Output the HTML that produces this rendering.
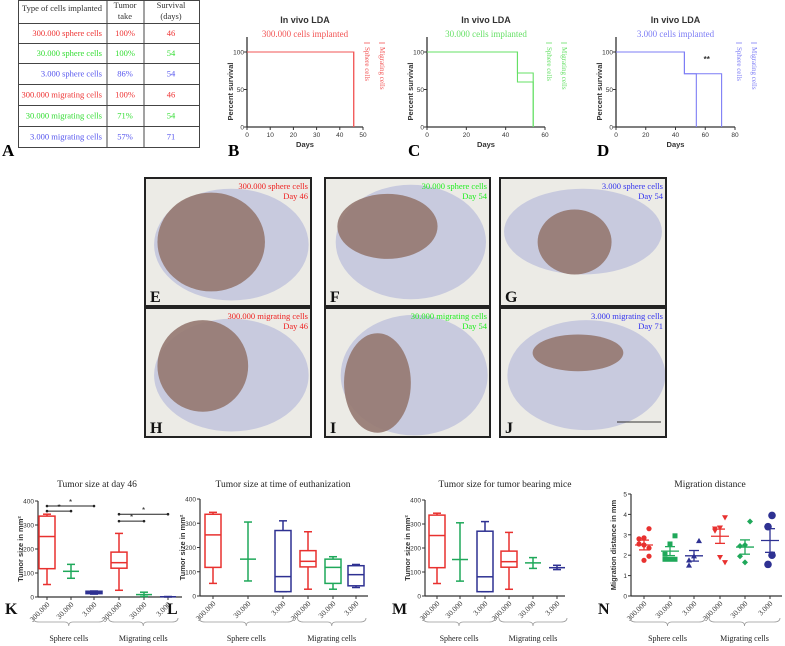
<!DOCTYPE html>
<html><head><meta charset="utf-8"><style>
body{margin:0;background:#fff;}
svg{display:block;}
.sf{font-family:"Liberation Serif",serif;}
.ss{font-family:"Liberation Sans",sans-serif;}
</style></head><body>
<svg id="fig" width="785" height="646" viewBox="0 0 785 646" xmlns="http://www.w3.org/2000/svg">
<g id="table" class="sf" font-size="8.5">
  <rect x="18.5" y="0.5" width="181" height="147" fill="#fff" stroke="#444" stroke-width="1"/>
  <line x1="107" y1="0" x2="107" y2="147" stroke="#444"/>
  <line x1="144" y1="0" x2="144" y2="147" stroke="#444"/>
  <text x="62" y="11" text-anchor="middle" fill="#333">Type of cells implanted</text>
  <text x="125" y="8" text-anchor="middle" fill="#333">Tumor</text>
  <text x="125" y="19" text-anchor="middle" fill="#333">take</text>
  <text x="171" y="8" text-anchor="middle" fill="#333">Survival</text>
  <text x="171" y="19" text-anchor="middle" fill="#333">(days)</text>
</g>
<text x="2" y="156" class="sf" font-size="17" font-weight="bold">A</text>
<g id="surv"></g>
<g id="brains"></g>
<g id="boxes"></g>
</svg>
<script>
const NS="http://www.w3.org/2000/svg";
function mk(p,tag,attrs,txt){const e=document.createElementNS(NS,tag);for(const k in attrs)e.setAttribute(k,attrs[k]);if(txt!==undefined)e.textContent=txt;p.appendChild(e);return e;}
const RED="#e8312f",GRN="#1fa85a",BLU="#2e3192";
const LRED="#f25555",LGRN="#66e066",LBLU="#7d7df5";

// ---------- Table ----------
const tableRows=["300.000 sphere cells","30.000 sphere cells","3.000 sphere cells","300.000 migrating cells","30.000 migrating cells","3.000 migrating cells"];
const tableTake=["100%","100%","86%","100%","71%","57%"];
const tableSurv=["46","54","54","46","54","71"];
const tableCol=["#ee3333","#33dd33","#5555ee","#ee3333","#33dd33","#5555ee"];
(function(){
 const t=document.getElementById('table');
 const ys=[23,43,63,84,105,126,147];
 for(let i=0;i<6;i++){
  const l=mk(t,'line',{x1:18,x2:199,y1:ys[i]+0.5,y2:ys[i]+0.5,stroke:'#444'});
  
  
  const cy=(ys[i]+ys[i+1])/2+3;
  const a=mk(t,'text',{x:102,y:cy,'text-anchor':'end',fill:tableCol[i]},tableRows[i]);
  
  
  const b=mk(t,'text',{x:125,y:cy,'text-anchor':'middle',fill:tableCol[i]},tableTake[i]);
  
  
  const c=mk(t,'text',{x:171,y:cy,'text-anchor':'middle',fill:tableCol[i]},tableSurv[i]);
  
  
 }
})();

// ---------- Survival charts ----------
const survLabels=["B","C","D"];
const survSub=["300.000 cells implanted","30.000 cells implanted","3.000 cells implanted"];
const survXmax=[50,60,80];
const survXticks=[[0,10,20,30,40,50],[0,20,40,60],[0,20,40,60,80]];
const survSphereT=[[0,46,46],[0,46,46,54,54],[0,46,46,54,54]];
const survSphereS=[[100,100,0],[100,100,60,60,0],[100,100,71,71,0]];
const survMigT=[[0,46,46],[0,46,46,54,54],[0,46,46,71,71]];
const survMigS=[[100,100,0],[100,100,72,72,0],[100,100,71,71,0]];
const survColor=[LRED,LGRN,LBLU];
const survX0=[247,427,616],survX1=[363,545,735];
(function(){
 const g=document.getElementById('surv');
 for(let k=0;k<3;k++){
  const x0=survX0[k],x1=survX1[k],yT=52,yB=127;
  const sx=v=>x0+(x1-x0)*v/survXmax[k];
  const sy=v=>yB-(yB-yT)*v/100;
  const cg=mk(g,'g',{});
  
  
  const cx=(x0+x1)/2;
  const t=mk(cg,'text',{x:cx,y:23,'text-anchor':'middle','font-size':'9','font-weight':'bold',fill:'#333',class:'ss'},'In vivo LDA');
  
  
  const st=mk(cg,'text',{x:cx,y:37,'text-anchor':'middle','font-size':'9',fill:survColor[k],class:'sf'},survSub[k]);
  
  
  mk(cg,'line',{x1:x0,y1:37,x2:x0,y2:yB+0.5,stroke:'#333','stroke-width':1.3});
  mk(cg,'line',{x1:x0,y1:yB,x2:x1,y2:yB,stroke:'#333','stroke-width':1.3});
  [0,50,100].forEach(v=>{mk(cg,'line',{x1:x0-3,x2:x0,y1:sy(v),y2:sy(v),stroke:'#333'});
   const tl=mk(cg,'text',{x:x0-3,y:sy(v)+2.5,'text-anchor':'end','font-size':'6.5',fill:'#333',class:'ss'},String(v));
   
   });
  survXticks[k].forEach(v=>{mk(cg,'line',{x1:sx(v),x2:sx(v),y1:yB,y2:yB+3,stroke:'#333'});
   const tl=mk(cg,'text',{x:sx(v),y:yB+10,'text-anchor':'middle','font-size':'6.5',fill:'#333',class:'ss'},String(v));
   
   });
  const xl=mk(cg,'text',{x:cx,y:yB+20,'text-anchor':'middle','font-size':'7.5','font-weight':'bold',fill:'#333',class:'ss'},'Days');
  
  
  const yl=mk(cg,'text',{transform:`translate(${x0-14},${(yT+yB)/2+2}) rotate(-90)`,'text-anchor':'middle','font-size':'7.5','font-weight':'bold',fill:'#333',class:'ss'},'Percent survival');
  
  
  [[survSphereT[k],survSphereS[k]],[survMigT[k],survMigS[k]]].forEach((s,j)=>{
   const d=s[0].map((t,i)=>(i?'L':'M')+sx(t)+','+sy(s[1][i])).join('');
   const p=mk(cg,'path',{d:d,fill:'none',stroke:survColor[k],'stroke-width':1.1});
   
   
  });
  ['Sphere cells','Migrating cells'].forEach((n,j)=>{
   const lx=x1+4+j*15;
   mk(cg,'line',{x1:lx-3,x2:lx+3,y1:43,y2:43,stroke:survColor[k],'stroke-width':0.8});
   const lt=mk(cg,'text',{transform:`translate(${lx-2},47) rotate(90)`,'font-size':'7',fill:survColor[k],class:'sf'},n);
   
   
  });
  if(k===2){const s=mk(cg,'text',{x:sx(61),y:62,'text-anchor':'middle','font-size':'8','font-weight':'bold',fill:'#333',class:'ss'},'**');
   
   }
  const pl=mk(cg,'text',{x:x0-19,y:156,'font-size':'17','font-weight':'bold',class:'sf'},survLabels[k]);
  
  
 }
})();

// ---------- Brain section panels ----------
const brainLabels=["E","F","G","H","I","J"];
const brainTxt1=["300.000 sphere cells","30.000 sphere cells","3.000 sphere cells","300.000 migrating cells","30.000 migrating cells","3.000 migrating cells"];
const brainTxt2=["Day 46","Day 54","Day 54","Day 46","Day 54","Day 71"];
const brainCol=["#ee2222","#22ee22","#3333ee","#ee2222","#22ee22","#3333ee"];
(function(){
 const g=document.getElementById('brains');
 const px=[144,324,499],py=[177,307],w=[168,167,168],h=[130,131];
 const tum=[[0.4,0.5,0.32,0.38],[0.38,0.38,0.3,0.25],[0.45,0.5,0.22,0.25],[0.35,0.45,0.27,0.35],[0.32,0.58,0.2,0.38],[0.47,0.35,0.27,0.14]];
 const br=[[0.52,0.52,0.46,0.43],[0.52,0.5,0.45,0.44],[0.5,0.42,0.47,0.33],[0.52,0.52,0.46,0.43],[0.54,0.52,0.44,0.46],[0.52,0.52,0.47,0.42]];
 for(let i=0;i<6;i++){
  const c=i%3,r=Math.floor(i/3);
  const x=px[c],y=py[r],W=w[c],H=h[r];
  const pg=mk(g,'g',{});
  
  
  mk(pg,'rect',{x:x,y:y,width:W,height:H,fill:'#ecebe6'});
  const b=br[i];
  mk(pg,'ellipse',{cx:x+W*b[0],cy:y+H*b[1],rx:W*b[2],ry:H*b[3],fill:'#c8cade'});
  const t=tum[i];
  mk(pg,'ellipse',{cx:x+W*t[0],cy:y+H*t[1],rx:W*t[2],ry:H*t[3],fill:'#957870',opacity:0.9});
  mk(pg,'rect',{x:x+1,y:y+1,width:W-2,height:H-2,fill:'none',stroke:'#222','stroke-width':2});
  const a=mk(pg,'text',{x:x+W-4,y:y+12,'text-anchor':'end','font-size':'8.5',fill:brainCol[i],class:'sf'},brainTxt1[i]);
  
  
  const d=mk(pg,'text',{x:x+W-4,y:y+22,'text-anchor':'end','font-size':'8.5',fill:brainCol[i],class:'sf'},brainTxt2[i]);
  
  
  const l=mk(pg,'text',{x:x+6,y:y+H-5,'font-size':'16','font-weight':'bold',fill:'#111',class:'sf'},brainLabels[i]);
  
  
  if(i===5){mk(pg,'line',{x1:x+W-50,x2:x+W-6,y1:y+H-16,y2:y+H-16,stroke:'#333','stroke-width':1});}
 }
})();

// ---------- Box plots K, L, M ----------
const catLabels=["300.000","30.000","3.000","300.000","30.000","3.000"];
const catColors=[RED,GRN,BLU,RED,GRN,BLU];
const kMin=[52,78,12,28,2,0];
const kQ1=[118,107,14,120,10,1];
const kMed=[252,107,18,143,10,1];
const kQ3=[337,107,24,187,10,1];
const kMax=[345,136,25,265,20,2];
const lMin=[52,62,18,28,28,35];
const lQ1=[118,152,18,120,52,42];
const lMed=[252,152,80,143,118,88];
const lQ3=[337,152,270,187,152,125];
const lMax=[345,305,310,265,162,130];
const mMin=[52,62,18,28,115,110];
const mQ1=[118,152,18,120,138,118];
const mMed=[252,152,80,143,138,118];
const mQ3=[337,152,270,187,138,118];
const mMax=[345,305,310,265,160,128];
const yTicks400=[0,100,200,300,400];
// N scatter
const nS0=[3.3,2.85,2.8,2.55,2.5,2.35,1.95,1.75];
const nS1=[2.95,2.55,2.05,1.8,1.8,1.8];
const nS2=[2.7,1.95,1.75,1.5];
const nM0=[3.85,3.35,3.3,3.2,1.9,1.65];
const nM1=[3.65,2.5,2.45,1.95,1.65];
const nM2=[3.95,3.4,2.0,1.55];
const nMean=[2.5,2.2,1.97,2.93,2.4,2.72];
const nSem=[0.24,0.22,0.26,0.35,0.35,0.58];
const yTicks5=[0,1,2,3,4,5];

function chartFrame(g,ax,axEnd,yT,yB,ymax,ticks,cats,title,titleX,ylab,label){
 const sy=v=>yB-(yB-yT)*v/ymax;
 const tt=mk(g,'text',{x:titleX,y:487,'text-anchor':'middle','font-size':'9.5',fill:'#222',class:'sf'},title);
 
 
 mk(g,'line',{x1:ax,x2:ax,y1:sy(ymax),y2:yB+0.5,stroke:'#333','stroke-width':1.2});
 mk(g,'line',{x1:ax,x2:axEnd,y1:yB,y2:yB,stroke:'#333','stroke-width':1.2});
 ticks.forEach(v=>{mk(g,'line',{x1:ax-3,x2:ax,y1:sy(v),y2:sy(v),stroke:'#333'});
  const t=mk(g,'text',{x:ax-4,y:sy(v)+2.5,'text-anchor':'end','font-size':'6.5',fill:'#333',class:'ss'},String(v));
  
  });
 const yl=mk(g,'text',{transform:`translate(${ax-15},${(yT+yB)/2}) rotate(-90)`,'text-anchor':'middle','font-size':'7.5','font-weight':'bold',fill:'#333',class:'ss'},ylab);
 
 
 cats.forEach((cx,i)=>{
  mk(g,'line',{x1:cx,x2:cx,y1:yB,y2:yB+3,stroke:'#333'});
  const t=mk(g,'text',{transform:`translate(${cx+3},${yB+8}) rotate(-45)`,'text-anchor':'end','font-size':'7.5',fill:'#333',class:'sf'},catLabels[i]);
  
  
 });
 const mid=(cats[2]+cats[3])/2;
 const bl=cats[0]-14,br=cats[5]+10;
 const bY=622;
 [[bl,mid-2],[mid+2,br]].forEach((s,j)=>{
  const m=(s[0]+s[1])/2;
  const p=mk(g,'path',{d:`M${s[0]},${bY-4}Q${s[0]},${bY} ${s[0]+6},${bY}L${m-4},${bY}Q${m},${bY} ${m},${bY+4}Q${m},${bY} ${m+4},${bY}L${s[1]-6},${bY}Q${s[1]},${bY} ${s[1]},${bY-4}`,fill:'none',stroke:'#999','stroke-width':0.8});
  
  
  const t=mk(g,'text',{x:m,y:641,'text-anchor':'middle','font-size':'8',fill:'#222',class:'sf'},j?'Migrating cells':'Sphere cells');
  
  
 });
 const pl=mk(g,'text',{x:ax-33,y:614,'font-size':'16','font-weight':'bold',fill:'#111',class:'sf'},label);
 
 
 return sy;
}
function boxChart(name,ax,axEnd,yT,yB,cats,mn,q1,md,q3,mx,title,titleX,label){
 const g=mk(document.getElementById('boxes'),'g',{});
 
 
 const sy=chartFrame(g,ax,axEnd,yT,yB,400,yTicks400,cats,title,titleX,'Tumor size in mm²',label);
 cats.forEach((cx,i)=>{
  const col=catColors[i],hw=8;
  const bg=mk(g,'g',{stroke:col,'stroke-width':1.5,fill:'none'});
  
  
  mk(bg,'line',{x1:cx,x2:cx,y1:sy(mx[i]),y2:sy(mn[i])});
  mk(bg,'line',{x1:cx-4,x2:cx+4,y1:sy(mx[i]),y2:sy(mx[i])});
  mk(bg,'line',{x1:cx-4,x2:cx+4,y1:sy(mn[i]),y2:sy(mn[i])});
  if(q3[i]>q1[i]) mk(bg,'rect',{x:cx-hw,y:sy(q3[i]),width:2*hw,height:sy(q1[i])-sy(q3[i]),fill:'#fff'});
  mk(bg,'line',{x1:cx-hw,x2:cx+hw,y1:sy(md[i]),y2:sy(md[i])});
 });
 return {g,sy};
}
const kc=[47,71,94,119,144,168];
const K=boxChart('boxplot-k-day46',38,182,501,597,kc,kMin,kQ1,kMed,kQ3,kMax,'Tumor size at day 46',97,'K');
const sigFrom=[0,0,3,3],sigTo=[2,1,5,4],sigVal=[379,358,345,316];
sigFrom.forEach((f,i)=>{
 const y=K.sy(sigVal[i]);
 const s=mk(K.g,'g',{});
 
 
 mk(s,'line',{x1:kc[f],x2:kc[sigTo[i]],y1:y,y2:y,stroke:'#222','stroke-width':1});
 mk(s,'circle',{cx:kc[f],cy:y,r:1.3,fill:'#222'});
 mk(s,'circle',{cx:kc[sigTo[i]],cy:y,r:1.3,fill:'#222'});
 mk(s,'text',{x:(kc[f]+kc[sigTo[i]])/2,y:y-1,'text-anchor':'middle','font-size':'8',fill:'#222',class:'ss'},'*');
});
boxChart('boxplot-l-euthanization',200,368,499,596,[213,248,283,308,333,356],lMin,lQ1,lMed,lQ3,lMax,'Tumor size at time of euthanization',283,'L');
boxChart('boxplot-m-tumor-bearing',425,565,500,596,[437,460,485,509,533,557],mMin,mQ1,mMed,mQ3,mMax,'Tumor size for tumor bearing mice',505,'M');

(function(){
 const g=mk(document.getElementById('boxes'),'g',{});
 
 
 const cats=[644,670,694,720,745,770];
 const sy=chartFrame(g,631,782,494,596,5,yTicks5,cats,'Migration distance',710,'Migration distance in mm','N');
 const series=[nS0,nS1,nS2,nM0,nM1,nM2];
 const shapes=['circle','square','tri','dtri','diamond','bigcircle'];
 series.forEach((arr,i)=>{
  const cx=cats[i],col=catColors[i];
  arr.forEach((v,j)=>{
   const off=((j%3)-1)*5*(j%2?1:-1);
   const x=cx+off,y=sy(v);let p;
   if(shapes[i]==='circle') p=mk(g,'circle',{cx:x,cy:y,r:2.6,fill:col});
   else if(shapes[i]==='bigcircle') p=mk(g,'circle',{cx:cx+((j%2)?-1:1)*2,cy:y,r:3.8,fill:col});
   else if(shapes[i]==='square') p=mk(g,'rect',{x:x-2.5,y:y-2.5,width:5,height:5,fill:col});
   else if(shapes[i]==='tri') p=mk(g,'path',{d:`M${x},${y-3}L${x+3},${y+2.2}L${x-3},${y+2.2}Z`,fill:col});
   else if(shapes[i]==='dtri') p=mk(g,'path',{d:`M${x},${y+3}L${x+3},${y-2.2}L${x-3},${y-2.2}Z`,fill:col});
   else p=mk(g,'path',{d:`M${x},${y-3}L${x+3},${y}L${x},${y+3}L${x-3},${y}Z`,fill:col});
   
   
  });
  const m=mk(g,'g',{stroke:col,'stroke-width':1.3});
  
  
  mk(m,'line',{x1:cx-9,x2:cx+9,y1:sy(nMean[i]),y2:sy(nMean[i])});
  mk(m,'line',{x1:cx,x2:cx,y1:sy(nMean[i]+nSem[i]),y2:sy(nMean[i]-nSem[i])});
  mk(m,'line',{x1:cx-5,x2:cx+5,y1:sy(nMean[i]+nSem[i]),y2:sy(nMean[i]+nSem[i])});
  mk(m,'line',{x1:cx-5,x2:cx+5,y1:sy(nMean[i]-nSem[i]),y2:sy(nMean[i]-nSem[i])});
 });
})();
</script>
</body></html>
